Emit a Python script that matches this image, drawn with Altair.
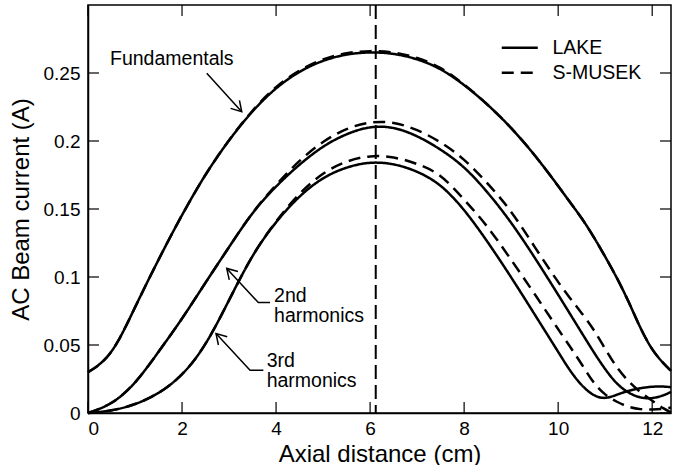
import altair as alt
import pandas as pd

# Axial positions (cm) at which the AC beam current is sampled
x_cm = [0, 0.5, 1, 1.5, 2, 2.5, 3, 3.5, 4, 4.5, 5, 5.5, 6, 6.5, 7, 7.5, 8, 8.5,
        9, 9.5, 10, 10.25, 10.5, 10.75, 11, 11.25, 11.5, 11.75, 12, 12.25, 12.4]

# AC beam current (A) for each harmonic and code
fund_lake = [0.030, 0.041, 0.078, 0.113, 0.146, 0.176, 0.201, 0.2225, 0.2395, 0.2515,
             0.2595, 0.264, 0.2655, 0.2645, 0.2605, 0.2535, 0.2415, 0.227, 0.210, 0.190,
             0.167, 0.155, 0.1435, 0.130, 0.115, 0.0995, 0.082, 0.062, 0.046, 0.036, 0.031]
fund_smusek = [0.030, 0.041, 0.078, 0.113, 0.146, 0.176, 0.201, 0.223, 0.2405, 0.2525,
               0.2605, 0.265, 0.2665, 0.2655, 0.2615, 0.2545, 0.2418, 0.227, 0.210, 0.190,
               0.167, 0.155, 0.1435, 0.130, 0.115, 0.0995, 0.082, 0.062, 0.046, 0.036, 0.031]
h2_lake = [0.0, 0.006, 0.021, 0.045, 0.069, 0.096, 0.122, 0.148, 0.167, 0.183,
           0.1965, 0.2055, 0.211, 0.2105, 0.204, 0.194, 0.1815, 0.1625, 0.1405, 0.1145,
           0.087, 0.073, 0.059, 0.045, 0.032, 0.021, 0.0145, 0.011, 0.0105, 0.013, 0.0155]
h2_smusek = [0.0, 0.006, 0.021, 0.045, 0.069, 0.096, 0.122, 0.148, 0.168, 0.186,
             0.200, 0.2095, 0.2143, 0.2142, 0.2085, 0.1995, 0.187, 0.169, 0.149, 0.122,
             0.096, 0.0845, 0.0735, 0.062, 0.047, 0.033, 0.023, 0.015, 0.009, 0.003, 0.0005]
h3_lake = [0.0, 0.0015, 0.006, 0.014, 0.027, 0.049, 0.083, 0.117, 0.141, 0.160,
           0.1735, 0.181, 0.1848, 0.1835, 0.178, 0.1685, 0.150, 0.126, 0.100, 0.0725,
           0.045, 0.031, 0.020, 0.0125, 0.0102, 0.0135, 0.0165, 0.0183, 0.0195, 0.0195, 0.019]
h3_smusek = [0.0, 0.0015, 0.006, 0.014, 0.027, 0.049, 0.083, 0.117, 0.1415, 0.162,
             0.177, 0.1855, 0.1895, 0.1885, 0.1835, 0.176, 0.157, 0.1375, 0.1127, 0.0876,
             0.0615, 0.049, 0.036, 0.022, 0.013, 0.0081, 0.0042, 0.0026, 0.0025, 0.003, 0.004]

peak_x = [6.12]

x_ticks = [0, 2, 4, 6, 8, 10, 12]
y_ticks = [0, 0.05, 0.1, 0.15, 0.2, 0.25]

# Annotation text (baseline positions in data units)
label_text = ["Fundamentals", "2nd", "harmonics", "3rd", "harmonics"]
label_x = [0.468, 3.957, 3.957, 3.80, 3.80]
label_y = [0.2557, 0.0817, 0.067, 0.0339, 0.0191]

# Annotation arrows: polylines ending at the arrow tip
arrow_id = ["f", "f", "h2", "h2", "h2", "h3", "h3", "h3"]
arrow_order = [0, 1, 0, 1, 2, 0, 1, 2]
arrow_x = [2.526, 3.27, 3.872, 3.623, 2.951, 3.730, 3.447, 2.723]
arrow_y = [0.2498, 0.2215, 0.0812, 0.0812, 0.1063, 0.0314, 0.0314, 0.0584]
tip_x = [3.27, 2.951, 2.723]
tip_y = [0.2215, 0.1063, 0.0584]
tip_angle = [47.7, 226.6, 227.2]

W, H = 583, 408
FONT = "Liberation Sans"

frames = []
for model, harm, ys in [("LAKE", "fund", fund_lake), ("S-MUSEK", "fund", fund_smusek),
                        ("LAKE", "h2", h2_lake), ("S-MUSEK", "h2", h2_smusek),
                        ("LAKE", "h3", h3_lake), ("S-MUSEK", "h3", h3_smusek)]:
    frames.append(pd.DataFrame({"x": x_cm, "y": ys, "model": model, "harm": harm}))
curves = pd.concat(frames, ignore_index=True)

xs = alt.Scale(domain=[0, 12.4], nice=False, zero=False)
ys_ = alt.Scale(domain=[0, 0.3], nice=False, zero=False)

x_enc = alt.X("x:Q", scale=xs,
              axis=alt.Axis(values=x_ticks, title="Axial distance (cm)", format="~g"))
y_enc = alt.Y("y:Q", scale=ys_,
              axis=alt.Axis(values=y_ticks, title="AC Beam current (A)", format="~g"))

# legend key: a long horizontal stroke drawn by a small symbol
legend_key = "M-3,0L3,0"

lines = alt.Chart(curves).mark_line(color="black", strokeWidth=2.5, interpolate="basis").encode(
    x=x_enc,
    y=y_enc,
    detail="harm:N",
    strokeDash=alt.StrokeDash(
        "model:N",
        scale=alt.Scale(domain=["LAKE", "S-MUSEK"], range=[[1, 0], [12, 7]]),
        legend=alt.Legend(title=None, orient="none", legendX=422, legendY=33,
                          symbolType=legend_key, symbolSize=144, symbolStrokeWidth=2.5,
                          symbolStrokeColor="black", symbolFillColor="transparent",
                          labelFontSize=19.5, labelOffset=23,
                          labelFont=FONT, padding=0, rowPadding=4),
    ),
)

peak = alt.Chart(pd.DataFrame({"x": peak_x})).mark_rule(
    color="black", strokeWidth=2, strokeDash=[14, 6]
).encode(x=alt.X("x:Q", scale=xs))

xt = pd.DataFrame({"x": x_ticks})
yt = pd.DataFrame({"y": y_ticks})
tick_b = alt.Chart(xt).mark_rule(color="black", strokeWidth=1.2).encode(
    x=alt.X("x:Q", scale=xs), y=alt.value(H), y2=alt.value(H - 11))
tick_t = alt.Chart(xt).mark_rule(color="black", strokeWidth=1.2).encode(
    x=alt.X("x:Q", scale=xs), y=alt.value(0), y2=alt.value(11))
tick_l = alt.Chart(yt).mark_rule(color="black", strokeWidth=1.2).encode(
    y=alt.Y("y:Q", scale=ys_), x=alt.value(0), x2=alt.value(11))
tick_r = alt.Chart(yt).mark_rule(color="black", strokeWidth=1.2).encode(
    y=alt.Y("y:Q", scale=ys_), x=alt.value(W), x2=alt.value(W - 11))

labels = alt.Chart(pd.DataFrame({"t": label_text, "x": label_x, "y": label_y})).mark_text(
    align="left", baseline="alphabetic", fontSize=19.5, font=FONT, color="black"
).encode(x=alt.X("x:Q", scale=xs), y=alt.Y("y:Q", scale=ys_), text="t:N")

arrows = alt.Chart(pd.DataFrame({"id": arrow_id, "o": arrow_order, "x": arrow_x, "y": arrow_y})).mark_line(
    color="black", strokeWidth=1.5
).encode(x=alt.X("x:Q", scale=xs), y=alt.Y("y:Q", scale=ys_), detail="id:N", order="o:Q")

heads = alt.Chart(pd.DataFrame({"x": tip_x, "y": tip_y, "a": tip_angle})).mark_point(
    shape="M-1,-0.6L0,0L-1,0.6", filled=False, color="black", strokeWidth=1.5, size=400, opacity=1
).encode(x=alt.X("x:Q", scale=xs), y=alt.Y("y:Q", scale=ys_),
         angle=alt.Angle("a:Q", scale=None))

chart = alt.layer(peak, lines, tick_b, tick_t, tick_l, tick_r, arrows, heads, labels).properties(
    width=W, height=H,
    autosize=alt.AutoSizeParams(type="none"),
    padding={"left": 88, "top": 5, "right": 17, "bottom": 52},
).configure(font=FONT).configure_view(
    stroke="black", strokeWidth=1.5
).configure_axis(
    grid=False, domainColor="black", domainWidth=1.5, ticks=False, tickSize=0,
    labelFont=FONT, labelFontSize=19, labelColor="black",
    titleFont=FONT, titleFontSize=24, titleFontWeight="normal", titleColor="black",
).configure_axisX(labelPadding=6, titlePadding=4).configure_axisY(labelPadding=8, titlePadding=10)

chart.save("out.html", embed_options={"renderer": "svg", "actions": False})
